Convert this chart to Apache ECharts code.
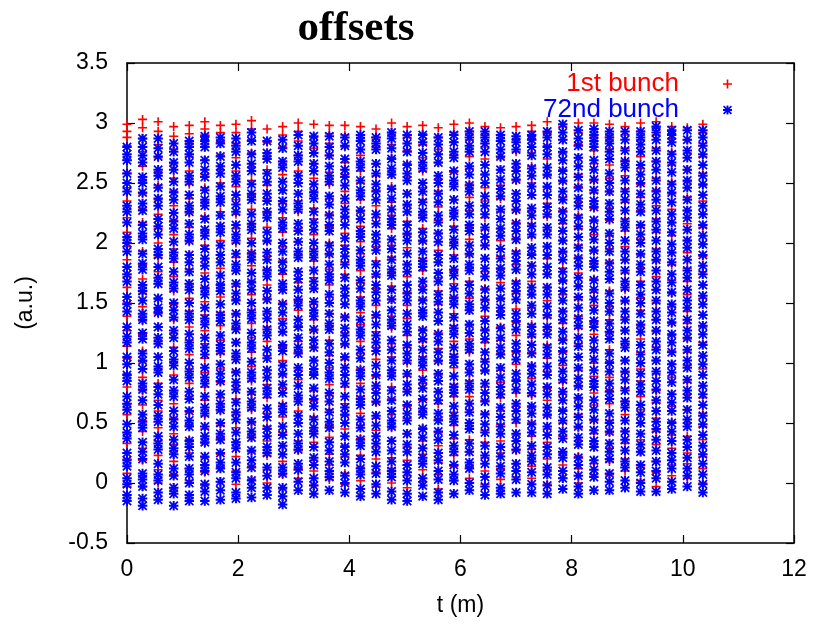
<!DOCTYPE html>
<html>
<head>
<meta charset="utf-8">
<script src="https://cdn.jsdelivr.net/npm/echarts@6/dist/echarts.min.js"></script>
<style>html,body{margin:0;padding:0;background:#fff;}#c{width:815px;height:625px;}</style>
</head>
<body>
<div id="c"></div>
<script>
// column positions t (m)
var tCols = [0,0.28,0.56,0.84,1.12,1.40,1.68,1.96,2.24,2.52,2.80,3.08,3.36,3.64,3.92,4.20,4.48,4.76,5.04,5.32,5.60,5.88,6.16,6.44,6.72,7.00,7.28,7.56,7.84,8.12,8.40,8.68,8.96,9.24,9.52,9.80,10.08,10.36];
var xTicks = [0,2,4,6,8,10,12];
var yTicks = [-0.5,0,0.5,1,1.5,2,2.5,3,3.5];
// 72nd bunch offsets, one list per column
var bunch72 = [
[-0.15,-0.1,-0.01,0.04,0.14,0.19,0.25,0.37,0.42,0.49,0.61,0.66,0.72,0.85,0.9,0.99,1.05,1.17,1.22,1.3,1.43,1.49,1.55,1.68,1.74,1.8,1.93,2.0,2.05,2.17,2.26,2.31,2.43,2.5,2.58,2.69,2.74,2.8],
[-0.19,-0.13,-0.03,0.03,0.08,0.2,0.26,0.34,0.46,0.51,0.57,0.69,0.78,0.83,0.95,1.02,1.08,1.2,1.25,1.36,1.41,1.52,1.6,1.65,1.78,1.83,1.91,2.03,2.08,2.15,2.27,2.33,2.42,2.5,2.55,2.67,2.73,2.8,2.87],
[-0.14,-0.08,0.02,0.07,0.16,0.28,0.33,0.39,0.51,0.56,0.65,0.74,0.8,0.92,0.97,1.05,1.16,1.21,1.3,1.42,1.46,1.54,1.66,1.71,1.8,1.9,1.95,2.07,2.14,2.2,2.31,2.37,2.46,2.56,2.61,2.72,2.79,2.87],
[-0.19,-0.09,-0.04,0.06,0.12,0.24,0.29,0.36,0.47,0.53,0.6,0.72,0.77,0.86,0.98,1.03,1.1,1.21,1.27,1.38,1.44,1.5,1.62,1.67,1.76,1.87,1.92,2.01,2.12,2.18,2.25,2.36,2.42,2.51,2.61,2.67,2.76,2.83],
[-0.15,-0.1,0.0,0.07,0.12,0.22,0.3,0.35,0.47,0.52,0.6,0.7,0.76,0.88,0.93,1.0,1.12,1.17,1.24,1.36,1.41,1.5,1.61,1.66,1.76,1.84,1.9,2.02,2.07,2.16,2.26,2.31,2.4,2.51,2.56,2.67,2.74,2.8,2.85],
[-0.15,-0.07,-0.01,0.1,0.15,0.22,0.34,0.39,0.47,0.58,0.63,0.72,0.83,0.88,0.96,1.07,1.13,1.21,1.32,1.37,1.46,1.57,1.62,1.7,1.81,1.87,1.95,2.06,2.11,2.2,2.31,2.36,2.44,2.55,2.61,2.69,2.8,2.85,2.89],
[-0.14,-0.06,0.01,0.12,0.17,0.25,0.36,0.41,0.5,0.61,0.66,0.74,0.85,0.91,0.99,1.1,1.15,1.23,1.35,1.4,1.49,1.6,1.65,1.73,1.84,1.9,1.98,2.09,2.14,2.23,2.34,2.39,2.47,2.58,2.64,2.72,2.83,2.88],
[-0.13,-0.08,0.04,0.09,0.17,0.29,0.34,0.42,0.53,0.59,0.67,0.78,0.84,0.92,1.03,1.08,1.17,1.28,1.33,1.41,1.52,1.58,1.66,1.77,1.82,1.91,2.02,2.07,2.15,2.26,2.32,2.4,2.51,2.56,2.65,2.76,2.81,2.87],
[-0.12,-0.04,0.02,0.13,0.19,0.27,0.38,0.43,0.51,0.63,0.68,0.76,0.87,0.92,1.01,1.12,1.17,1.25,1.37,1.42,1.5,1.61,1.67,1.75,1.86,1.91,2.0,2.11,2.16,2.24,2.36,2.41,2.49,2.6,2.66,2.74,2.85,2.92],
[-0.1,-0.04,0.06,0.13,0.25,0.3,0.39,0.45,0.55,0.62,0.74,0.79,0.88,0.94,1.04,1.11,1.23,1.28,1.37,1.43,1.53,1.6,1.72,1.77,1.86,1.92,2.02,2.09,2.21,2.26,2.35,2.41,2.51,2.58,2.7,2.75,2.85],
[-0.18,-0.11,-0.04,0.08,0.13,0.24,0.31,0.4,0.47,0.59,0.64,0.75,0.82,0.91,0.98,1.1,1.15,1.26,1.33,1.42,1.49,1.61,1.66,1.77,1.84,1.93,2.0,2.12,2.17,2.28,2.35,2.44,2.51,2.63,2.68,2.79,2.86],
[-0.06,0.01,0.11,0.16,0.28,0.33,0.41,0.5,0.56,0.68,0.73,0.81,0.9,0.96,1.08,1.13,1.21,1.3,1.36,1.48,1.53,1.61,1.7,1.76,1.88,1.93,2.01,2.1,2.16,2.28,2.33,2.41,2.5,2.56,2.68,2.73,2.81,2.9],
[-0.09,-0.02,0.04,0.15,0.21,0.3,0.41,0.46,0.53,0.64,0.7,0.79,0.9,0.95,1.02,1.13,1.19,1.28,1.39,1.44,1.51,1.62,1.68,1.77,1.88,1.93,2.0,2.11,2.17,2.26,2.37,2.42,2.49,2.6,2.66,2.75,2.83,2.89],
[-0.06,0.05,0.1,0.18,0.27,0.34,0.46,0.51,0.59,0.68,0.75,0.87,0.92,1.0,1.09,1.16,1.28,1.33,1.41,1.5,1.57,1.69,1.74,1.82,1.91,1.98,2.1,2.15,2.23,2.32,2.39,2.51,2.56,2.64,2.73,2.8,2.89],
[-0.08,0.0,0.06,0.17,0.24,0.3,0.39,0.5,0.57,0.63,0.72,0.83,0.9,0.96,1.05,1.16,1.23,1.29,1.38,1.49,1.56,1.62,1.71,1.82,1.89,1.95,2.04,2.15,2.22,2.28,2.37,2.48,2.55,2.61,2.7,2.81,2.88],
[-0.11,-0.05,0.07,0.12,0.2,0.31,0.36,0.46,0.53,0.65,0.7,0.78,0.89,0.94,1.04,1.11,1.23,1.28,1.36,1.47,1.52,1.62,1.69,1.81,1.86,1.94,2.05,2.1,2.2,2.27,2.39,2.44,2.52,2.63,2.68,2.78,2.85,2.9],
[-0.09,-0.01,0.08,0.14,0.26,0.33,0.39,0.48,0.56,0.68,0.75,0.81,0.9,0.98,1.1,1.17,1.23,1.32,1.4,1.52,1.59,1.65,1.74,1.82,1.94,2.01,2.07,2.16,2.24,2.36,2.43,2.49,2.58,2.66,2.78,2.83,2.88],
[-0.14,-0.07,0.05,0.1,0.18,0.27,0.35,0.47,0.52,0.6,0.69,0.77,0.89,0.94,1.02,1.11,1.19,1.31,1.36,1.44,1.53,1.61,1.73,1.78,1.86,1.95,2.03,2.15,2.2,2.28,2.37,2.45,2.57,2.62,2.7,2.79,2.87,2.92],
[-0.15,-0.09,0.02,0.09,0.15,0.26,0.32,0.41,0.52,0.58,0.65,0.76,0.82,0.91,1.02,1.08,1.15,1.26,1.32,1.41,1.52,1.58,1.65,1.76,1.82,1.91,2.02,2.08,2.15,2.26,2.32,2.41,2.52,2.58,2.65,2.76,2.83,2.9],
[-0.11,-0.02,0.04,0.16,0.21,0.29,0.38,0.45,0.57,0.62,0.7,0.79,0.86,0.98,1.03,1.11,1.2,1.27,1.39,1.44,1.52,1.61,1.68,1.8,1.85,1.93,2.02,2.09,2.21,2.26,2.34,2.43,2.5,2.62,2.67,2.75,2.84,2.9],
[-0.14,-0.08,0.03,0.1,0.19,0.25,0.36,0.43,0.52,0.58,0.69,0.76,0.85,0.91,1.02,1.09,1.18,1.24,1.35,1.42,1.51,1.57,1.68,1.75,1.84,1.9,2.01,2.08,2.17,2.23,2.34,2.41,2.5,2.56,2.67,2.74,2.82,2.88],
[-0.09,0.02,0.07,0.15,0.26,0.31,0.4,0.51,0.56,0.64,0.75,0.8,0.89,1.0,1.05,1.13,1.24,1.29,1.38,1.49,1.54,1.62,1.73,1.78,1.87,1.98,2.03,2.11,2.22,2.27,2.36,2.47,2.52,2.6,2.71,2.76,2.84,2.9],
[-0.06,0.0,0.12,0.17,0.26,0.33,0.45,0.5,0.59,0.66,0.78,0.83,0.92,0.99,1.11,1.16,1.25,1.32,1.44,1.49,1.58,1.65,1.77,1.82,1.91,1.98,2.1,2.15,2.24,2.31,2.43,2.48,2.57,2.64,2.76,2.81,2.88,2.93],
[-0.1,-0.03,0.05,0.16,0.23,0.31,0.42,0.49,0.57,0.68,0.75,0.83,0.94,1.01,1.09,1.2,1.27,1.35,1.46,1.53,1.61,1.72,1.79,1.87,1.98,2.05,2.13,2.24,2.31,2.39,2.5,2.57,2.65,2.76,2.83,2.88,2.93],
[-0.09,-0.04,0.08,0.14,0.22,0.3,0.41,0.47,0.55,0.63,0.74,0.8,0.88,0.96,1.07,1.13,1.21,1.29,1.4,1.46,1.54,1.62,1.73,1.79,1.87,1.95,2.06,2.12,2.2,2.28,2.39,2.45,2.53,2.61,2.72,2.78,2.85,2.9],
[-0.08,0.03,0.1,0.16,0.28,0.35,0.41,0.53,0.6,0.66,0.78,0.85,0.91,1.03,1.1,1.16,1.28,1.35,1.41,1.53,1.6,1.66,1.78,1.85,1.91,2.03,2.1,2.16,2.28,2.35,2.41,2.53,2.6,2.66,2.78,2.84,2.89],
[-0.08,-0.01,0.09,0.18,0.23,0.31,0.42,0.49,0.58,0.64,0.75,0.82,0.91,0.97,1.08,1.15,1.24,1.3,1.41,1.48,1.57,1.63,1.74,1.81,1.9,1.96,2.07,2.14,2.23,2.29,2.4,2.47,2.56,2.62,2.73,2.8,2.86,2.9],
[-0.09,-0.02,0.07,0.13,0.24,0.3,0.4,0.47,0.57,0.63,0.74,0.8,0.9,0.97,1.07,1.13,1.24,1.3,1.4,1.47,1.57,1.63,1.74,1.8,1.9,1.97,2.07,2.13,2.24,2.3,2.4,2.47,2.57,2.63,2.74,2.8,2.88,2.93],
[-0.05,0.04,0.1,0.21,0.26,0.37,0.43,0.52,0.6,0.69,0.76,0.86,0.93,1.02,1.1,1.19,1.26,1.36,1.43,1.52,1.6,1.69,1.76,1.86,1.93,2.02,2.1,2.19,2.26,2.36,2.43,2.52,2.6,2.69,2.76,2.86,2.92,2.99],
[-0.09,-0.03,0.06,0.15,0.21,0.32,0.38,0.47,0.55,0.64,0.71,0.81,0.87,0.96,1.05,1.14,1.21,1.31,1.37,1.46,1.55,1.64,1.71,1.81,1.87,1.96,2.05,2.14,2.21,2.31,2.37,2.46,2.55,2.64,2.71,2.81,2.87,2.94],
[-0.06,0.05,0.11,0.19,0.3,0.35,0.44,0.53,0.61,0.69,0.8,0.85,0.94,1.03,1.11,1.19,1.3,1.35,1.44,1.53,1.61,1.69,1.8,1.85,1.94,2.03,2.11,2.19,2.3,2.35,2.44,2.53,2.61,2.69,2.8,2.85,2.9,2.95],
[-0.06,0.01,0.08,0.2,0.26,0.33,0.43,0.5,0.58,0.7,0.76,0.83,0.93,1.0,1.08,1.2,1.26,1.33,1.43,1.5,1.58,1.7,1.76,1.83,1.93,2.0,2.08,2.2,2.26,2.33,2.43,2.5,2.58,2.7,2.76,2.83,2.88,2.93],
[-0.04,0.02,0.13,0.18,0.27,0.36,0.43,0.52,0.63,0.68,0.77,0.86,0.93,1.02,1.13,1.18,1.27,1.36,1.43,1.52,1.63,1.68,1.77,1.86,1.93,2.02,2.13,2.18,2.27,2.36,2.43,2.52,2.63,2.68,2.77,2.86,2.93],
[-0.07,0.0,0.09,0.15,0.26,0.32,0.41,0.5,0.57,0.65,0.76,0.82,0.91,1.0,1.07,1.15,1.26,1.32,1.41,1.5,1.57,1.65,1.76,1.82,1.91,2.0,2.07,2.15,2.26,2.32,2.41,2.5,2.57,2.65,2.76,2.82,2.88,2.93],
[-0.07,0.04,0.1,0.18,0.27,0.36,0.45,0.51,0.6,0.69,0.78,0.85,0.93,1.02,1.11,1.18,1.27,1.36,1.43,1.52,1.61,1.68,1.77,1.86,1.93,2.02,2.11,2.18,2.27,2.36,2.43,2.52,2.61,2.68,2.77,2.86,2.92,2.97],
[-0.05,0.01,0.12,0.19,0.25,0.35,0.43,0.5,0.6,0.67,0.74,0.84,0.92,0.99,1.09,1.17,1.24,1.34,1.42,1.49,1.59,1.67,1.74,1.84,1.92,1.99,2.09,2.17,2.24,2.34,2.42,2.49,2.59,2.67,2.74,2.84,2.9,2.94],
[-0.03,0.06,0.12,0.21,0.3,0.36,0.47,0.53,0.61,0.71,0.77,0.86,0.96,1.02,1.11,1.21,1.27,1.36,1.46,1.52,1.61,1.71,1.77,1.86,1.96,2.02,2.11,2.21,2.27,2.36,2.46,2.52,2.61,2.71,2.77,2.86,2.94],
[-0.08,-0.01,0.07,0.16,0.24,0.31,0.4,0.49,0.56,0.65,0.74,0.81,0.9,0.99,1.06,1.15,1.24,1.31,1.4,1.49,1.56,1.65,1.74,1.81,1.9,1.99,2.06,2.15,2.24,2.31,2.4,2.49,2.56,2.65,2.74,2.81,2.88,2.94]
];
// 1st bunch offsets, one list per column
var bunch1 = [
[-0.03,0.08,0.2,0.33,0.42,0.57,0.66,0.8,0.91,1.04,1.14,1.27,1.39,1.5,1.63,1.72,1.86,1.97,2.09,2.21,2.35,2.46,2.58,2.69,2.81,2.88,2.93,2.99],
[-0.03,0.06,0.19,0.29,0.43,0.52,0.65,0.77,0.88,1.01,1.1,1.24,1.35,1.47,1.58,1.7,1.82,1.93,2.05,2.17,2.28,2.41,2.52,2.64,2.76,2.87,2.96,3.03],
[0.0,0.11,0.23,0.35,0.46,0.6,0.69,0.83,0.95,1.05,1.18,1.3,1.41,1.53,1.66,1.76,1.88,2.0,2.12,2.24,2.36,2.48,2.59,2.71,2.82,2.93,3.01],
[-0.04,0.07,0.18,0.32,0.41,0.54,0.66,0.77,0.9,1.01,1.13,1.25,1.36,1.49,1.6,1.72,1.84,1.95,2.07,2.19,2.31,2.43,2.54,2.66,2.78,2.89,2.97],
[0.02,0.12,0.25,0.36,0.48,0.59,0.72,0.83,0.95,1.07,1.19,1.3,1.43,1.54,1.66,1.78,1.9,2.01,2.13,2.25,2.37,2.49,2.6,2.72,2.83,2.91,2.98],
[-0.02,0.09,0.21,0.33,0.45,0.56,0.69,0.8,0.92,1.04,1.16,1.27,1.4,1.51,1.63,1.75,1.87,1.98,2.1,2.22,2.34,2.46,2.57,2.69,2.8,2.9,2.95,3.01],
[0.01,0.13,0.24,0.37,0.48,0.6,0.71,0.84,0.95,1.08,1.19,1.31,1.42,1.55,1.66,1.79,1.9,2.02,2.14,2.26,2.37,2.5,2.61,2.73,2.84,2.92,2.98],
[-0.01,0.1,0.22,0.34,0.46,0.57,0.7,0.81,0.93,1.05,1.17,1.29,1.4,1.53,1.64,1.77,1.88,2.0,2.12,2.24,2.36,2.47,2.6,2.71,2.83,2.92,2.99],
[0.03,0.14,0.26,0.38,0.5,0.61,0.74,0.85,0.97,1.09,1.21,1.33,1.44,1.57,1.68,1.81,1.92,2.04,2.16,2.28,2.4,2.52,2.63,2.75,2.86,2.95,3.02],
[0.0,0.11,0.23,0.35,0.47,0.58,0.71,0.82,0.94,1.06,1.18,1.3,1.41,1.54,1.65,1.78,1.89,2.01,2.13,2.25,2.37,2.48,2.61,2.72,2.84,2.95],
[-0.05,0.07,0.18,0.31,0.42,0.55,0.66,0.79,0.9,1.02,1.14,1.26,1.37,1.5,1.61,1.74,1.85,1.97,2.09,2.21,2.33,2.44,2.57,2.68,2.8,2.9,2.97],
[0.04,0.12,0.27,0.35,0.5,0.6,0.71,0.86,0.94,1.09,1.18,1.31,1.44,1.52,1.67,1.76,1.9,2.01,2.12,2.26,2.35,2.5,2.6,2.73,2.85,2.93,3.0],
[-0.02,0.1,0.19,0.34,0.43,0.55,0.69,0.77,0.91,1.02,1.13,1.27,1.36,1.49,1.62,1.71,1.85,1.95,2.07,2.2,2.29,2.43,2.54,2.66,2.79,2.88,2.99],
[0.03,0.15,0.24,0.38,0.47,0.61,0.73,0.82,0.96,1.06,1.19,1.31,1.41,1.55,1.65,1.78,1.9,2.0,2.14,2.24,2.37,2.49,2.59,2.73,2.83,2.91,2.98],
[-0.01,0.08,0.22,0.31,0.45,0.56,0.66,0.8,0.9,1.03,1.15,1.25,1.39,1.49,1.62,1.74,1.84,1.98,2.08,2.21,2.33,2.43,2.57,2.67,2.8,2.9,2.98],
[0.02,0.13,0.23,0.37,0.48,0.58,0.72,0.83,0.95,1.08,1.18,1.32,1.42,1.55,1.67,1.77,1.91,2.01,2.14,2.26,2.36,2.5,2.6,2.73,2.85,2.97],
[-0.03,0.09,0.2,0.3,0.44,0.54,0.67,0.79,0.89,1.03,1.13,1.26,1.38,1.48,1.62,1.72,1.85,1.97,2.07,2.21,2.31,2.44,2.56,2.66,2.8,2.88,2.95],
[0.0,0.12,0.21,0.35,0.46,0.57,0.7,0.8,0.94,1.05,1.16,1.29,1.39,1.53,1.64,1.75,1.88,1.98,2.12,2.23,2.34,2.47,2.57,2.71,2.82,2.92,3.0],
[-0.04,0.06,0.19,0.3,0.41,0.54,0.64,0.78,0.89,1.0,1.13,1.23,1.37,1.48,1.59,1.72,1.82,1.96,2.07,2.18,2.31,2.41,2.55,2.66,2.77,2.88,2.97],
[0.01,0.11,0.24,0.35,0.46,0.59,0.69,0.83,0.94,1.05,1.18,1.28,1.42,1.53,1.64,1.77,1.87,2.01,2.12,2.23,2.36,2.46,2.6,2.71,2.82,2.91,2.98],
[-0.05,0.07,0.17,0.31,0.42,0.53,0.66,0.76,0.9,1.01,1.12,1.25,1.35,1.49,1.6,1.71,1.84,1.94,2.08,2.19,2.3,2.43,2.53,2.67,2.78,2.88,2.96],
[0.02,0.14,0.23,0.37,0.48,0.59,0.72,0.82,0.96,1.07,1.18,1.31,1.41,1.55,1.66,1.77,1.9,2.0,2.14,2.25,2.36,2.49,2.59,2.73,2.84,2.92,2.99],
[0.04,0.13,0.26,0.36,0.5,0.61,0.72,0.85,0.95,1.09,1.2,1.31,1.44,1.54,1.68,1.79,1.9,2.03,2.13,2.27,2.38,2.49,2.62,2.72,2.86,2.93,3.0],
[-0.01,0.1,0.21,0.34,0.44,0.58,0.69,0.8,0.93,1.03,1.17,1.28,1.39,1.52,1.62,1.76,1.87,1.98,2.11,2.21,2.35,2.46,2.57,2.7,2.8,2.9,2.97],
[0.03,0.12,0.25,0.35,0.49,0.6,0.71,0.84,0.94,1.08,1.19,1.3,1.43,1.53,1.67,1.78,1.89,2.02,2.12,2.26,2.37,2.48,2.61,2.71,2.85,2.96],
[0.05,0.16,0.27,0.4,0.5,0.64,0.75,0.86,0.99,1.09,1.23,1.34,1.45,1.58,1.68,1.82,1.93,2.04,2.17,2.27,2.41,2.52,2.63,2.76,2.86,2.97],
[0.04,0.14,0.28,0.39,0.5,0.63,0.73,0.87,0.98,1.09,1.22,1.32,1.46,1.57,1.68,1.81,1.91,2.05,2.16,2.27,2.4,2.5,2.64,2.75,2.86,2.93,2.98],
[-0.01,0.11,0.2,0.34,0.45,0.56,0.69,0.79,0.93,1.04,1.15,1.28,1.38,1.52,1.63,1.74,1.87,1.97,2.11,2.22,2.33,2.46,2.56,2.7,2.81,2.92,3.01],
[0.04,0.15,0.25,0.39,0.5,0.61,0.74,0.84,0.98,1.09,1.2,1.33,1.43,1.57,1.68,1.79,1.92,2.02,2.16,2.27,2.38,2.51,2.61,2.75,2.86,2.97],
[0.0,0.12,0.22,0.35,0.46,0.57,0.7,0.8,0.94,1.05,1.16,1.29,1.39,1.53,1.64,1.75,1.88,1.98,2.12,2.23,2.34,2.47,2.57,2.71,2.82,2.92,3.0],
[0.07,0.16,0.3,0.41,0.52,0.65,0.75,0.89,1.0,1.11,1.24,1.34,1.48,1.59,1.7,1.83,1.93,2.07,2.18,2.29,2.42,2.52,2.66,2.77,2.88,2.95,3.0],
[0.07,0.18,0.29,0.42,0.52,0.66,0.77,0.88,1.01,1.11,1.25,1.36,1.47,1.6,1.7,1.84,1.95,2.06,2.19,2.29,2.43,2.54,2.65,2.78,2.88,2.99],
[0.1,0.2,0.33,0.43,0.57,0.68,0.79,0.92,1.02,1.16,1.27,1.38,1.51,1.61,1.75,1.86,1.97,2.1,2.2,2.34,2.45,2.56,2.69,2.79,2.9,2.97],
[0.02,0.13,0.26,0.36,0.5,0.61,0.72,0.85,0.95,1.09,1.2,1.31,1.44,1.54,1.68,1.79,1.9,2.03,2.13,2.27,2.38,2.49,2.62,2.72,2.86,2.93,3.0],
[-0.03,0.09,0.18,0.32,0.43,0.54,0.67,0.77,0.91,1.02,1.13,1.26,1.36,1.5,1.61,1.72,1.85,1.95,2.09,2.2,2.31,2.44,2.54,2.68,2.79,2.9,2.96,3.01],
[0.06,0.15,0.29,0.4,0.51,0.64,0.74,0.88,0.99,1.1,1.23,1.33,1.47,1.58,1.69,1.82,1.92,2.06,2.17,2.28,2.41,2.51,2.65,2.76,2.87,2.97],
[0.04,0.16,0.25,0.39,0.5,0.61,0.74,0.84,0.98,1.09,1.2,1.33,1.43,1.57,1.68,1.79,1.92,2.02,2.16,2.27,2.38,2.51,2.61,2.75,2.86,2.96],
[0.0,0.12,0.22,0.36,0.47,0.58,0.71,0.81,0.95,1.06,1.17,1.3,1.4,1.54,1.65,1.76,1.89,1.99,2.13,2.24,2.35,2.48,2.58,2.72,2.83,2.92,2.99]
];
var seriesNames = ['1st bunch', '72nd bunch'];

function toPoints(cols) {
  var out = [];
  for (var i = 0; i < cols.length; i++) {
    for (var j = 0; j < cols[i].length; j++) out.push([tCols[i], cols[i][j]]);
  }
  return out;
}

var PLUS = 'path://M4.1,0H5.9V10H4.1ZM0,4.1H10V5.9H0Z';
var STAR = 'path://M3.95,0H6.05V10H3.95ZM0,3.95H10V6.05H0ZM1.3,0L10,8.7L8.7,10L0,1.3ZM8.7,0L10,1.3L1.3,10L0,8.7Z';
var FONT = 'Liberation Sans';

var axisCommon = {
  axisLine: {show: true, onZero: false, lineStyle: {color: '#000', width: 1.5}},
  axisTick: {show: true, inside: true, length: 8, lineStyle: {color: '#000', width: 1.2}},
  splitLine: {show: false}
};

var chart = echarts.init(document.getElementById('c'), null, {renderer: 'canvas'});
chart.setOption({
  animation: false,
  backgroundColor: '#fff',
  title: {
    text: 'offsets', left: 351, top: 2, textAlign: 'center',
    textStyle: {fontFamily: 'Liberation Serif', fontWeight: 'bold', fontSize: 43, color: '#000'}
  },
  grid: {left: 127, right: 21, top: 63, bottom: 82},
  legend: {
    orient: 'vertical', right: 78, top: 66, align: 'right',
    itemWidth: 9, itemHeight: 9, itemGap: 0, selectedMode: false,
    textStyle: {fontFamily: FONT, fontSize: 26, padding: [0, 39, 0, 0]},
    data: [
      {name: seriesNames[0], icon: PLUS, textStyle: {color: '#ff0000'}},
      {name: seriesNames[1], icon: STAR, textStyle: {color: '#0000ff'}}
    ]
  },
  xAxis: [
    Object.assign({
      type: 'value', min: xTicks[0], max: xTicks[xTicks.length - 1], interval: xTicks[1] - xTicks[0], position: 'bottom',
      name: 't (m)', nameLocation: 'middle', nameGap: 51,
      nameTextStyle: {fontFamily: FONT, fontSize: 23, color: '#000'},
      axisLabel: {fontFamily: FONT, fontSize: 23, color: '#000', margin: 15}
    }, axisCommon),
    Object.assign({
      type: 'value', min: xTicks[0], max: xTicks[xTicks.length - 1], interval: xTicks[1] - xTicks[0], position: 'top',
      axisLabel: {show: false}
    }, axisCommon)
  ],
  yAxis: [
    Object.assign({
      type: 'value', min: yTicks[0], max: yTicks[yTicks.length - 1], interval: yTicks[1] - yTicks[0], position: 'left',
      name: '(a.u.)', nameLocation: 'middle', nameGap: 90,
      nameTextStyle: {fontFamily: FONT, fontSize: 23, color: '#000'},
      axisLabel: {fontFamily: FONT, fontSize: 23, color: '#000', margin: 19}
    }, axisCommon),
    Object.assign({
      type: 'value', min: yTicks[0], max: yTicks[yTicks.length - 1], interval: yTicks[1] - yTicks[0], position: 'right',
      axisLabel: {show: false}
    }, axisCommon)
  ],
  series: [
    {
      name: seriesNames[0], type: 'scatter', xAxisIndex: 0, yAxisIndex: 0,
      symbol: PLUS, symbolSize: 9, silent: true,
      itemStyle: {color: '#ff0000', opacity: 1},
      data: toPoints(bunch1)
    },
    {
      name: seriesNames[1], type: 'scatter', xAxisIndex: 0, yAxisIndex: 0,
      symbol: STAR, symbolSize: 9.5, silent: true,
      itemStyle: {color: '#0000ff', opacity: 1},
      data: toPoints(bunch72)
    }
  ]
});
</script>
</body>
</html>
